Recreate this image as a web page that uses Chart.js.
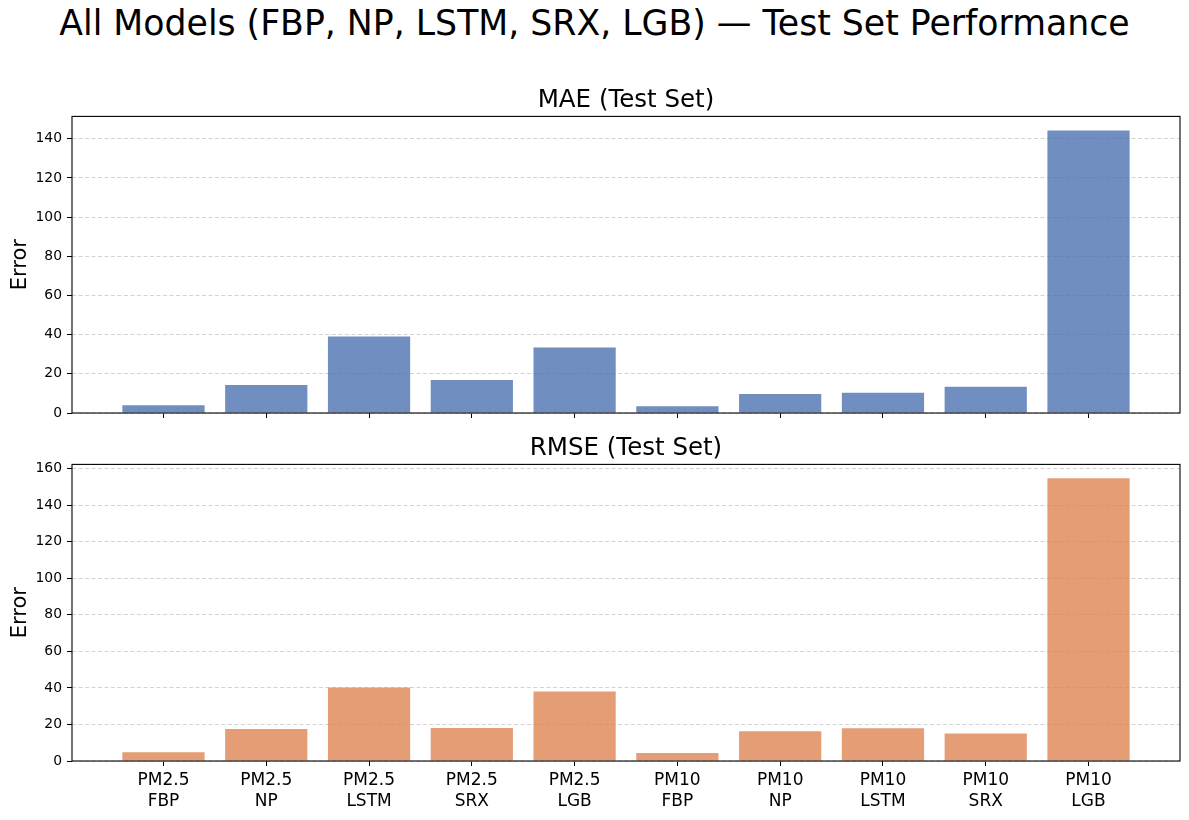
<!DOCTYPE html>
<html>
<head>
<meta charset="utf-8">
<script src="https://cdn.jsdelivr.net/npm/chart.js@4/dist/chart.umd.min.js"></script>
<style>
  body { margin: 0; background: #fff; }
  #wrap { position: relative; width: 1189px; height: 820px; font-family: "DejaVu Sans", sans-serif; }
  #suptitle { position: absolute; left: 0; top: 3px; width: 1189px; text-align: center; font-size: 34.7px; color: #000; line-height: 40px; }
  canvas { position: absolute; left: 0; }
  #maeChart { top: 77px; }
  #rmseChart { top: 425px; }
</style>
</head>
<body>
<div id="wrap">
  <div id="suptitle">All Models (FBP, NP, LSTM, SRX, LGB) — Test Set Performance</div>
  <canvas id="maeChart" width="1189" height="350"></canvas>
  <canvas id="rmseChart" width="1189" height="395"></canvas>
</div>
<script>
const pollutants = ['PM2.5', 'PM2.5', 'PM2.5', 'PM2.5', 'PM2.5', 'PM10', 'PM10', 'PM10', 'PM10', 'PM10'];
const models = ['FBP', 'NP', 'LSTM', 'SRX', 'LGB', 'FBP', 'NP', 'LSTM', 'SRX', 'LGB'];
const maeValues = [4.0, 14.3, 39.1, 16.9, 33.4, 3.5, 9.7, 10.3, 13.4, 144.2];
const rmseValues = [4.8, 17.5, 40.2, 18.1, 38.0, 4.4, 16.3, 17.9, 15.1, 154.7];
const maeMax = 151.4;
const rmseMax = 162.3;

const FONT = 'DejaVu Sans';
const AZUL = 'rgba(76, 114, 176, 0.8)';
const NARANJA = 'rgba(221, 132, 82, 0.8)';

// marco negro alrededor del area del grafico (como los spines de matplotlib)
const marco = {
    id: 'marco',
    afterDraw(chart) {
        const a = chart.chartArea;
        const ctx = chart.ctx;
        ctx.save();
        ctx.strokeStyle = '#000';
        ctx.lineWidth = 1.1;
        ctx.strokeRect(a.left, a.top, a.right - a.left, a.bottom - a.top);
        ctx.restore();
    }
};

function crearGrafico(canvasId, titulo, valores, color, yMax, mostrarEtiquetas) {
    return new Chart(document.getElementById(canvasId), {
        type: 'bar',
        data: {
            datasets: [{
                data: valores.map((v, i) => ({ x: i, y: v })),
                backgroundColor: color,
                borderWidth: 0,
                categoryPercentage: 0.8,
                barPercentage: 1.0
            }]
        },
        plugins: [marco],
        options: {
            responsive: false,
            animation: false,
            devicePixelRatio: 1,
            layout: { padding: { left: 0, right: 9, top: 0, bottom: 0 } },
            plugins: {
                legend: { display: false },
                tooltip: { enabled: false },
                title: {
                    display: true,
                    fullSize: false,
                    text: titulo,
                    color: '#000',
                    font: { family: FONT, size: 24.5, weight: 'normal', lineHeight: 1.2 },
                    padding: { top: 9, bottom: 1 }
                }
            },
            scales: {
                x: {
                    type: 'linear',
                    min: -0.89,
                    max: 9.89,
                    offset: false,
                    afterBuildTicks: s => { s.ticks = models.map((m, i) => ({ value: i })); },
                    afterFit: s => { s.height = mostrarEtiquetas ? 59 : 14; },
                    border: { display: false },
                    grid: {
                        offset: false,
                        drawOnChartArea: false,
                        drawTicks: true,
                        tickLength: 5,
                        tickColor: '#000',
                        tickWidth: 1
                    },
                    ticks: {
                        display: mostrarEtiquetas,
                        maxRotation: 0,
                        autoSkip: false,
                        padding: 4,
                        color: '#000',
                        font: { family: FONT, size: 17, lineHeight: 1.24 },
                        callback: v => [pollutants[v], models[v]]
                    }
                },
                y: {
                    min: 0,
                    max: yMax,
                    z: 1,
                    afterFit: s => { s.width = 72; },
                    border: { display: false, dash: [4, 2.5] },
                    grid: {
                        color: '#c6c6c6',
                        lineWidth: 0.8,
                        tickColor: '#000',
                        tickLength: 5,
                        tickWidth: 1,
                        tickBorderDash: []
                    },
                    ticks: {
                        stepSize: 20,
                        includeBounds: false,
                        padding: 5,
                        color: '#000',
                        font: { family: FONT, size: 13.9 }
                    },
                    title: {
                        display: true,
                        text: 'Error',
                        color: '#000',
                        font: { family: FONT, size: 21 },
                        padding: { top: 8, bottom: 0 }
                    }
                }
            }
        }
    });
}

crearGrafico('maeChart', 'MAE (Test Set)', maeValues, AZUL, maeMax, false);
crearGrafico('rmseChart', 'RMSE (Test Set)', rmseValues, NARANJA, rmseMax, true);
</script>
</body>
</html>
